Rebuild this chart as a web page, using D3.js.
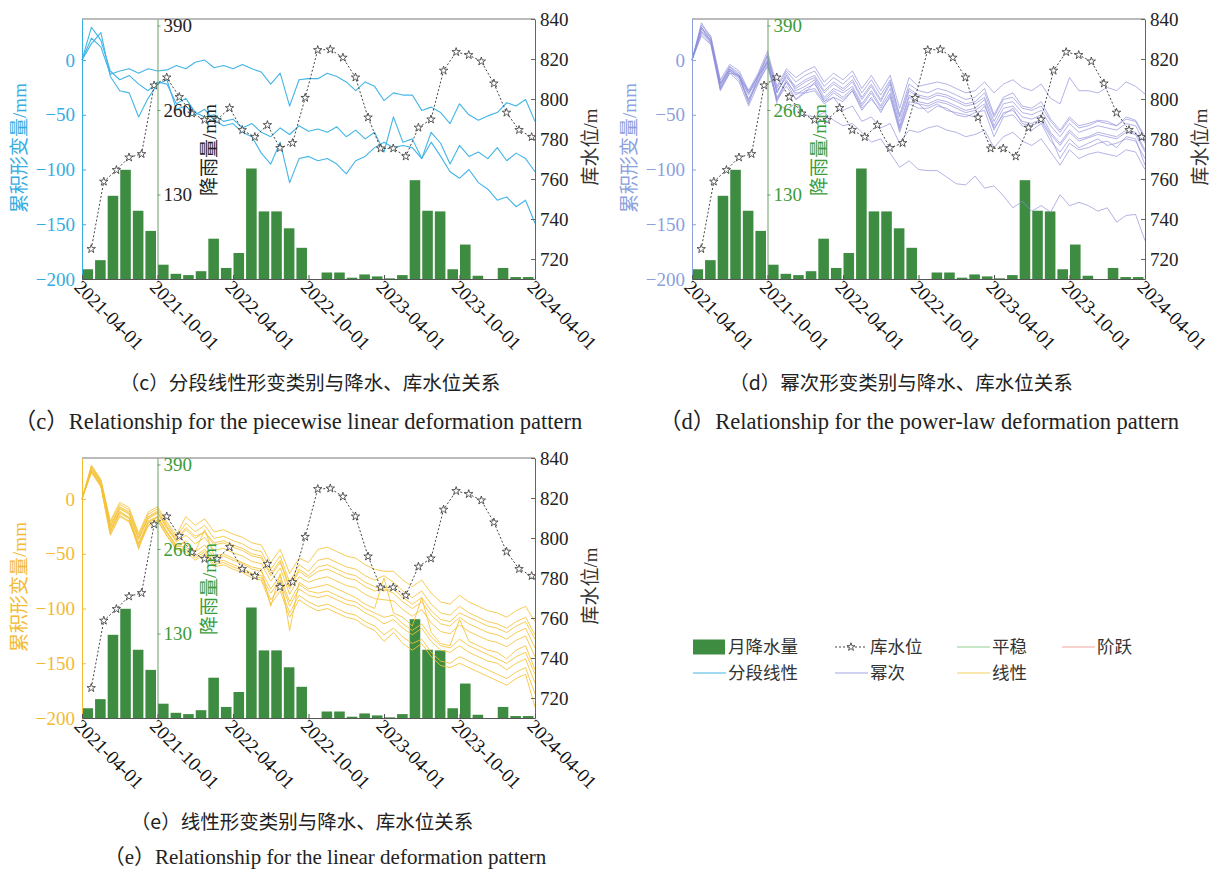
<!DOCTYPE html>
<html><head><meta charset="utf-8">
<script src="https://cdn.jsdelivr.net/npm/d3@7"></script>
<style>
body{margin:0;background:#fff;}
svg text{font-family:"Liberation Serif","Noto Sans CJK SC",serif;}
</style></head><body>
<svg id="chart" width="1210" height="871"></svg>
<script>
// ---------------- DATA ----------------
const tickLabels = ["2021-04-01","2021-10-01","2022-04-01","2022-10-01","2023-04-01","2023-10-01","2024-04-01"];
const tickMonths = [0,6,12,18,24,30,36];
const leftTicks = [-200,-150,-100,-50,0];
const rightTicks = [720,740,760,780,800,820,840];
const rainTicks = [130,260,390];
// monthly rainfall (mm), 2021-04 .. 2024-03
const rainfall = [15,29,128,168,105,74,22,8,6,12,62,17,40,170,104,104,78,48,0,10,10,2,7,4,1,6,152,105,104,15,53,5,0,17,3,3];
// reservoir level (m), one reading per month (around day 22)
const level = [725,758.7,764.5,770.8,772.5,806.8,810.8,801,792.8,789.6,789.5,795.5,784.5,781,787,775.5,778,800.6,824.5,824.8,820.7,810.8,790.8,775.3,775.3,771.3,785.7,789.8,814.2,823.5,822,818.8,807.8,793.2,784.5,781];
const levelDay = 22;
const deformStep = 0.75; // months between deformation samples

// (c) piecewise linear
const pwA = [0,20,12,-13,-10,-8,-12,-8,-10,-9,-5,-8,-2,0,-7,-5,-8,-4,-8,-11,-22,-12,-42,-18,-17,-17,-12,-15,-20,-28,-20,-24,-37,-30,-32,-32,-46,-43,-48,-58,-40,-50,-55,-51,-48,-39,-42,-36,-56];
const pwB = [0,30,18,-10,-18,-14,-22,-28,-20,-22,-40,-35,-48,-52,-50,-56,-54,-62,-58,-66,-70,-62,-68,-60,-65,-63,-66,-61,-70,-64,-72,-66,-84,-52,-75,-72,-90,-66,-76,-95,-78,-88,-84,-90,-80,-92,-85,-90,-102];
const pwC = [0,15,25,-15,-28,-30,-52,-35,-22,-18,-45,-42,-50,-45,-55,-60,-58,-66,-70,-85,-95,-75,-112,-90,-88,-92,-90,-95,-104,-92,-88,-80,-75,-80,-78,-80,-90,-75,-88,-102,-108,-100,-112,-118,-128,-125,-134,-128,-149];

// (d) power-law
const pow1 = [0,32,22,-18,-4,-10,-28,-12,8,-24,-8,-16,-10,-6,-20,-12,-18,-10,-26,-14,-28,-14,-44,-16,-24,-22,-20,-22,-26,-30,-28,-20,-30,-22,-18,-25,-28,-22,-35,-40,-16,-28,-28,-30,-25,-28,-20,-24,-31];
const pow2 = [0,30,20,-20,-6,-12,-30,-14,5,-26,-10,-20,-14,-10,-24,-16,-22,-14,-30,-18,-32,-18,-50,-22,-28,-30,-26,-28,-32,-36,-34,-26,-50,-34,-30,-42,-44,-38,-54,-64,-52,-60,-58,-55,-56,-60,-52,-55,-70];
const pow3 = [0,26,16,-22,-9,-15,-36,-16,3,-30,-12,-26,-20,-16,-30,-22,-28,-20,-36,-24,-38,-22,-56,-28,-34,-36,-32,-34,-38,-42,-40,-34,-56,-40,-38,-48,-50,-46,-60,-70,-58,-66,-63,-60,-62,-64,-58,-60,-76];
const pow4 = [0,24,15,-27,-10,-18,-38,-20,-1,-36,-18,-32,-26,-22,-36,-28,-34,-26,-42,-30,-44,-30,-62,-34,-40,-42,-38,-40,-44,-48,-46,-40,-64,-48,-46,-56,-58,-54,-68,-78,-66,-74,-71,-68,-70,-72,-66,-68,-84];
const pow5 = [0,34,20,-26,-12,-14,-40,-16,0,-38,-20,-36,-28,-26,-38,-34,-38,-28,-46,-34,-48,-32,-64,-38,-40,-48,-42,-44,-50,-52,-48,-46,-70,-52,-50,-60,-64,-58,-74,-84,-72,-80,-76,-72,-78,-76,-72,-74,-90];
const pow6 = [0,22,14,-28,-12,-20,-42,-22,-4,-34,-20,-30,-30,-20,-38,-30,-36,-28,-44,-36,-46,-34,-66,-40,-44,-44,-40,-46,-48,-50,-52,-42,-62,-50,-44,-58,-60,-56,-70,-90,-76,-82,-80,-76,-74,-80,-70,-72,-96];
const pow7 = [0,28,18,-24,-8,-16,-30,-18,-2,-28,-16,-24,-18,-14,-28,-20,-26,-18,-34,-22,-36,-20,-52,-26,-32,-34,-30,-32,-36,-40,-38,-30,-52,-36,-34,-44,-46,-42,-56,-66,-54,-62,-60,-56,-58,-60,-54,-56,-72];
const pow8 = [0,26,18,-25,-10,-16,-36,-20,-6,-36,-24,-36,-30,-28,-40,-34,-46,-42,-56,-52,-62,-58,-76,-64,-66,-62,-60,-64,-66,-70,-68,-64,-80,-70,-66,-74,-78,-72,-84,-96,-82,-90,-86,-84,-86,-88,-82,-84,-100];
const pow9 = [0,30,16,-22,-6,-14,-32,-14,4,-30,-14,-28,-24,-18,-34,-26,-30,-24,-40,-28,-42,-26,-60,-32,-38,-40,-36,-38,-42,-46,-44,-36,-60,-44,-42,-52,-54,-50,-66,-76,-64,-72,-70,-66,-68,-70,-64,-66,-82];
const pow10 = [0,30,18,-22,-8,-14,-28,-15,-2,-40,-45,-40,-50,-52,-48,-55,-60,-58,-66,-75,-72,-85,-98,-92,-100,-101,-101,-107,-113,-114,-106,-117,-115,-124,-135,-129,-138,-133,-139,-123,-133,-130,-133,-138,-135,-148,-142,-141,-165];

// (e) linear
const lin1 = [0,31,18,-20,-3,-8,-31,-12,-7,-21,-33,-16,-24,-18,-30,-28,-32,-35,-40,-42,-58,-46,-68,-54,-58,-46,-44,-48,-52,-54,-60,-64,-66,-66,-74,-80,-74,-86,-94,-96,-88,-94,-98,-102,-104,-108,-102,-98,-112];
const lin2 = [0,30,17,-22,-5,-10,-33,-14,-9,-23,-35,-22,-30,-24,-36,-34,-38,-41,-46,-48,-64,-52,-76,-60,-66,-56,-54,-58,-62,-64,-70,-74,-70,-76,-84,-90,-84,-96,-104,-106,-98,-104,-108,-112,-114,-118,-112,-108,-124];
const lin3 = [0,29,16,-24,-7,-12,-35,-16,-11,-25,-37,-28,-36,-30,-42,-40,-44,-47,-52,-54,-70,-58,-82,-66,-72,-66,-64,-68,-72,-74,-80,-84,-82,-86,-94,-100,-94,-106,-114,-116,-108,-114,-118,-122,-124,-128,-122,-118,-136];
const lin4 = [0,28,15,-26,-9,-14,-37,-18,-13,-27,-39,-33,-41,-35,-47,-45,-49,-52,-57,-59,-75,-63,-87,-71,-76,-73,-71,-75,-79,-81,-87,-91,-92,-93,-101,-107,-101,-113,-121,-123,-115,-121,-125,-129,-131,-135,-129,-125,-144];
const lin5 = [0,26,13,-28,-11,-17,-46,-20,-16,-30,-44,-38,-48,-28,-52,-50,-54,-58,-62,-64,-98,-68,-120,-76,-82,-80,-78,-82,-86,-90,-96,-100,-72,-104,-108,-116,-90,-122,-132,-134,-110,-130,-134,-138,-140,-146,-138,-134,-156];
const lin6 = [0,26,13,-30,-13,-18,-41,-22,-17,-31,-43,-44,-52,-46,-58,-56,-60,-63,-68,-70,-86,-74,-98,-82,-88,-90,-88,-92,-96,-98,-104,-108,-114,-110,-118,-124,-118,-130,-138,-140,-134,-140,-144,-148,-150,-156,-150,-146,-168];
const lin7 = [0,25,12,-32,-15,-20,-43,-24,-19,-33,-45,-46,-54,-48,-60,-58,-62,-65,-70,-72,-92,-80,-104,-88,-94,-98,-96,-100,-104,-106,-112,-116,-124,-118,-126,-132,-128,-140,-148,-150,-144,-148,-152,-156,-160,-164,-158,-154,-178];
const lin8 = [0,24,11,-33,-16,-21,-44,-25,-20,-34,-46,-48,-56,-50,-62,-60,-64,-67,-72,-74,-96,-84,-108,-92,-98,-102,-100,-104,-108,-110,-116,-120,-130,-122,-132,-138,-132,-144,-152,-154,-150,-154,-158,-162,-166,-170,-164,-160,-190];
const lin9 = [0,28,16,-25,-8,-13,-36,-17,-12,-26,-38,-26,-34,-30,-40,-38,-42,-45,-50,-52,-68,-56,-80,-64,-70,-62,-60,-64,-68,-70,-76,-80,-84,-82,-90,-96,-90,-102,-110,-112,-104,-108,-112,-116,-118,-122,-116,-112,-128];
const lin10 = [0,26,14,-29,-12,-17,-40,-21,-16,-30,-42,-40,-48,-42,-54,-52,-56,-59,-64,-66,-82,-70,-94,-78,-84,-86,-84,-88,-92,-94,-100,-104,-108,-106,-114,-120,-114,-126,-134,-136,-128,-134,-138,-142,-146,-150,-144,-140,-160];

const piecewiseSeries = [pwA, pwB, pwC];
const powerSeries = [pow1, pow2, pow3, pow4, pow5, pow6, pow7, pow8, pow9, pow10];
const linearSeries = [lin1, lin2, lin3, lin4, lin5, lin6, lin7, lin8, lin9, lin10];

const legendLabels = ["月降水量","库水位","平稳","阶跃","分段线性","幂次","线性"];

// ---------------- DRAW ----------------
const svg = d3.select("#chart");
const W = 453, H = 260;
const BAR = "#3e8c41";
const TICKFONT = 19;

function drawPanel(cfg) {
  const g = svg.append("g").attr("transform", `translate(${cfg.left},${cfg.top})`);
  const x = d3.scaleLinear().domain([0, 36]).range([0, W]);
  const yL = d3.scaleLinear().domain([-200, 37.5]).range([H, 0]);
  const yR = d3.scaleLinear().domain([710, 840]).range([H, 0]);
  const yRain = d3.scaleLinear().domain([0, 400]).range([H, 0]);

  // bars
  g.append("g").selectAll("rect").data(rainfall).join("rect")
    .attr("x", (d, i) => x(i) + 0.5)
    .attr("width", (d, i) => x(i + 1) - x(i) - 2)
    .attr("y", d => yRain(d))
    .attr("height", d => H - yRain(d))
    .attr("fill", BAR);

  // deformation lines
  const line = d3.line().x((d, i) => x(i * deformStep)).y(d => yL(d));
  g.append("g").selectAll("path").data(cfg.series).join("path")
    .attr("d", line)
    .attr("fill", "none")
    .attr("stroke", cfg.lineColor)
    .attr("stroke-width", cfg.lineWidth)
    .attr("stroke-opacity", cfg.lineOpacity)
    .attr("stroke-linejoin", "round");

  // reservoir level
  const lx = (d, i) => x(i + levelDay / 30);
  g.append("path").datum(level)
    .attr("d", d3.line().x(lx).y(d => yR(d)))
    .attr("fill", "none").attr("stroke", "#444").attr("stroke-width", 1)
    .attr("stroke-dasharray", "2,2");
  g.append("g").selectAll("path").data(level).join("path")
    .attr("transform", (d, i) => `translate(${lx(d, i)},${yR(d)})`)
    .attr("d", d3.symbol(d3.symbolStar).size(22))
    .attr("fill", "#fff").attr("stroke", "#333").attr("stroke-width", 0.8);

  // top border
  g.append("line").attr("x1", 0).attr("x2", W).attr("y1", 0).attr("y2", 0)
    .attr("stroke", "#777").attr("stroke-width", 1);

  // left axis
  const ax = g.append("g").call(d3.axisLeft(yL).tickValues(leftTicks)
      .tickSizeInner(-4).tickSizeOuter(0).tickPadding(7));
  ax.select(".domain").attr("stroke", cfg.axisColor);
  ax.selectAll("line").attr("stroke", cfg.axisColor);
  ax.selectAll("text").attr("fill", cfg.axisColor).style("font-size", TICKFONT + "px");

  // right axis
  const ar = g.append("g").attr("transform", `translate(${W},0)`)
    .call(d3.axisRight(yR).tickValues(rightTicks).tickSizeInner(-4).tickSizeOuter(0).tickPadding(5));
  ar.select(".domain").attr("stroke", "#666");
  ar.selectAll("line").attr("stroke", "#666");
  ar.selectAll("text").attr("fill", "#222").style("font-size", TICKFONT + "px");

  // rainfall axis at 2021-10
  const rx = x(6);
  const arn = g.append("g").attr("transform", `translate(${rx},0)`)
    .call(d3.axisRight(yRain).tickValues(rainTicks).tickSizeInner(3).tickSizeOuter(0).tickPadding(3));
  arn.select(".domain").attr("stroke", "#6a9f66");
  arn.selectAll("line").attr("stroke", "#6a9f66");
  arn.selectAll("text").attr("fill", cfg.rainColor).style("font-size", TICKFONT + "px");

  // bottom axis
  const ab = g.append("g").attr("transform", `translate(0,${H})`)
    .call(d3.axisBottom(x).tickValues(tickMonths).tickFormat((d, i) => tickLabels[i])
      .tickSizeInner(-4).tickSizeOuter(0));
  ab.select(".domain").attr("stroke", "#555");
  ab.selectAll("line").attr("stroke", "#555");
  ab.selectAll("text")
    .attr("x", 0).attr("y", 13).attr("dy", 0)
    .attr("transform", "rotate(45)")
    .attr("text-anchor", "start")
    .attr("fill", "#111").style("font-size", TICKFONT + "px");

  // titles
  g.append("text").attr("transform", `translate(-63,${H / 2 - 1}) rotate(-90)`)
    .attr("text-anchor", "middle").attr("dy", "0.35em")
    .attr("fill", cfg.axisColor).style("font-size", "19px").text("累积形变量/mm");
  g.append("text").attr("transform", `translate(${rx + 52},${H / 2 + 1}) rotate(-90)`)
    .attr("text-anchor", "middle").attr("dy", "0.35em")
    .attr("fill", cfg.rainColor).style("font-size", "19px").text("降雨量/mm");
  g.append("text").attr("transform", `translate(${W + 55},${H / 2 - 2}) rotate(-90)`)
    .attr("text-anchor", "middle").attr("dy", "0.35em")
    .attr("fill", "#333").style("font-size", "19px").text("库水位/m");

  // captions
  svg.append("text").attr("x", cfg.capCx).attr("y", cfg.top + cfg.capZhY)
    .attr("text-anchor", "middle").attr("fill", "#222")
    .style("font-family", "'Noto Sans CJK SC',sans-serif").style("font-size", "19.5px")
    .text(cfg.capZh);
  svg.append("text").attr("x", cfg.capEx).attr("y", cfg.top + cfg.capEnY)
    .attr("text-anchor", "middle").attr("fill", "#222")
    .style("font-size", cfg.capEnSize).text(cfg.capEn);
}

drawPanel({left: 82, top: 19, series: piecewiseSeries, lineColor: "#43b5e6", lineWidth: 1.1, lineOpacity: 1,
  axisColor: "#36ade2", rainColor: "#222",
  capCx: 310, capEx: 298, capZhY: 371, capEnY: 410, capEnSize: "22.5px",
  capZh: "（c）分段线性形变类别与降水、库水位关系",
  capEn: "（c）Relationship for the piecewise linear deformation pattern"});
drawPanel({left: 692, top: 19, series: powerSeries, lineColor: "#8f8fdc", lineWidth: 0.8, lineOpacity: 0.85,
  axisColor: "#8c9fde", rainColor: "#3a9c3a",
  capCx: 901, capEx: 919, capZhY: 371, capEnY: 410, capEnSize: "22.5px",
  capZh: "（d）幂次形变类别与降水、库水位关系",
  capEn: "（d）Relationship for the power-law deformation pattern"});
drawPanel({left: 82, top: 458, series: linearSeries, lineColor: "#f5c237", lineWidth: 0.9, lineOpacity: 0.95,
  axisColor: "#f2bb33", rainColor: "#3a9c3a",
  capCx: 302, capEx: 325, capZhY: 371, capEnY: 406, capEnSize: "21px",
  capZh: "（e）线性形变类别与降水、库水位关系",
  capEn: "（e）Relationship for the linear deformation pattern"});

// legend
const legendCols = [693, 835, 957, 1062];
const legendRows = [647, 673];
const legendStyles = [
  {type: "rect", color: BAR},
  {type: "level", color: "#444"},
  {type: "line", color: "#8fd18f"},
  {type: "line", color: "#f4a6a0"},
  {type: "line", color: "#43b5e6"},
  {type: "line", color: "#a3a3e6"},
  {type: "line", color: "#f5cf5a"}
];
const lg = svg.append("g");
legendLabels.forEach((lab, i) => {
  const col = i < 4 ? i : i - 4;
  const row = i < 4 ? 0 : 1;
  const x0 = legendCols[col], y0 = legendRows[row];
  const st = legendStyles[i];
  if (st.type === "rect") {
    lg.append("rect").attr("x", x0).attr("y", y0 - 7.5).attr("width", 32).attr("height", 15).attr("fill", st.color);
  } else if (st.type === "level") {
    lg.append("line").attr("x1", x0).attr("x2", x0 + 32).attr("y1", y0).attr("y2", y0)
      .attr("stroke", st.color).attr("stroke-dasharray", "2,2");
    lg.append("path").attr("transform", `translate(${x0 + 16},${y0})`)
      .attr("d", d3.symbol(d3.symbolStar).size(20)).attr("fill", "#fff").attr("stroke", "#333").attr("stroke-width", 0.8);
  } else {
    lg.append("line").attr("x1", x0).attr("x2", x0 + 33).attr("y1", y0).attr("y2", y0)
      .attr("stroke", st.color).attr("stroke-width", 1.2);
  }
  lg.append("text").attr("x", x0 + 35).attr("y", y0).attr("dy", "0.36em")
    .attr("fill", "#333").style("font-family", "'Noto Sans CJK SC',sans-serif").style("font-size", "17.5px")
    .text(lab);
});
</script>
</body></html>
